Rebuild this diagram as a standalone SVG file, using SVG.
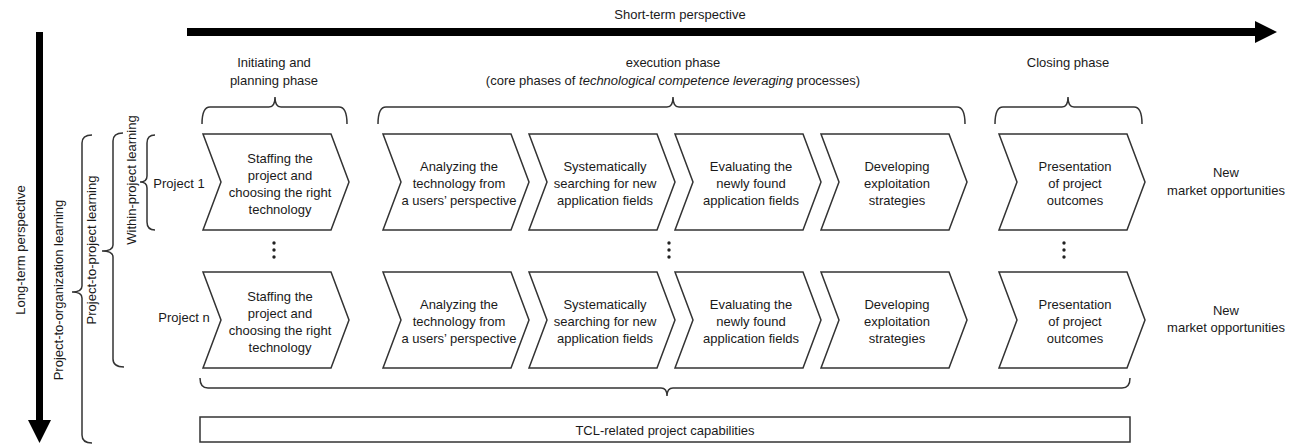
<svg xmlns="http://www.w3.org/2000/svg" width="1296" height="446" viewBox="0 0 1296 446">
<style>
text{font-family:"Liberation Sans",Arial,sans-serif;font-size:13px;fill:#1a1a1a;text-anchor:middle}
.chev{fill:#fff;stroke:#333;stroke-width:1.5;stroke-linejoin:miter}
.br{fill:none;stroke:#333;stroke-width:1.5}
.dot{fill:#222}
</style>
<defs>
<path id="chev" d="M0,0 L128,0 L146,48 L128,96 L0,96 L18,48 Z"/>
</defs>

<!-- axes -->
<g id="axes">
<rect x="187" y="28" width="1070" height="8" fill="#000"/>
<polygon points="1255,21 1277,32 1255,43" fill="#000"/>
<text x="680" y="18.5">Short-term perspective</text>
<rect x="36" y="32" width="7" height="392" fill="#000"/>
<polygon points="28,420 39.5,443 51,420" fill="#000"/>
<text transform="translate(24.5,250) rotate(-90)">Long-term perspective</text>
</g>

<!-- learning levels -->
<g id="learning-levels">
<text transform="translate(62.5,290) rotate(-90)">Project-to-organization learning</text>
<path class="br" d="M92,135 Q82,135 82,143 L82,286 Q82,292 72,292 Q82,292 82,298 L82,435 Q82,443 92,443"/>
<text transform="translate(95.5,250) rotate(-90)">Project-to-project learning</text>
<path class="br" d="M123,133 Q113,133 113,141 L113,245 Q113,251 102,251 Q113,251 113,257 L113,359 Q113,367 124,367"/>
<text transform="translate(135.5,180) rotate(-90)">Within-project learning</text>
<path class="br" d="M155,135 Q147,135 147,143 L147,176 Q147,182 140,182 Q147,182 147,188 L147,222 Q147,230 155,230"/>
</g>

<!-- phase braces -->
<g id="phases">
<text x="274" y="66.5">Initiating and</text>
<text x="274" y="84.5">planning phase</text>
<path class="br" d="M202,124 Q202,107 210,107 L269,107 Q275,107 275,97 Q275,107 281,107 L339,107 Q347,107 347,124"/>
<text x="673" y="66.5">execution phase</text>
<text x="673" y="84.5">(core phases of <tspan font-style="italic">technological competence leveraging</tspan> processes)</text>
<path class="br" d="M378,124 Q378,107 386,107 L667,107 Q673,107 673,97 Q673,107 679,107 L957,107 Q965,107 965,124"/>
<text x="1068" y="66.5">Closing phase</text>
<path class="br" d="M995,124 Q995,107 1003,107 L1062,107 Q1068,107 1068,97 Q1068,107 1074,107 L1134,107 Q1142,107 1142,124"/>
</g>

<!-- Project 1 -->
<g id="project1">
<text x="179" y="188">Project 1</text>
<g id="p1-staffing">
<use href="#chev" class="chev" x="203" y="134"/>
<text x="280" y="163">Staffing the</text><text x="280" y="180">project and</text><text x="280" y="197">choosing the right</text><text x="280" y="214">technology</text>
</g>
<g id="p1-analyzing">
<use href="#chev" class="chev" x="383" y="134"/>
<text x="459" y="170.5">Analyzing the</text><text x="459" y="187.5">technology from</text><text x="459" y="204.5">a users’ perspective</text>
</g>
<g id="p1-searching">
<use href="#chev" class="chev" x="529" y="134"/>
<text x="605" y="170.5">Systematically</text><text x="605" y="187.5">searching for new</text><text x="605" y="204.5">application fields</text>
</g>
<g id="p1-evaluating">
<use href="#chev" class="chev" x="675" y="134"/>
<text x="751" y="170.5">Evaluating the</text><text x="751" y="187.5">newly found</text><text x="751" y="204.5">application fields</text>
</g>
<g id="p1-developing">
<use href="#chev" class="chev" x="821" y="134"/>
<text x="897" y="170.5">Developing</text><text x="897" y="187.5">exploitation</text><text x="897" y="204.5">strategies</text>
</g>
<g id="p1-presentation">
<use href="#chev" class="chev" x="999" y="134"/>
<text x="1075" y="170.5">Presentation</text><text x="1075" y="187.5">of project</text><text x="1075" y="204.5">outcomes</text>
</g>
<text x="1226" y="176.5">New</text>
<text x="1226" y="194.5">market opportunities</text>
</g>

<!-- ellipses -->
<g id="ellipses">
<circle class="dot" cx="274" cy="243" r="1.7"/><circle class="dot" cx="274" cy="250" r="1.7"/><circle class="dot" cx="274" cy="257" r="1.7"/>
<circle class="dot" cx="669" cy="243" r="1.7"/><circle class="dot" cx="669" cy="250" r="1.7"/><circle class="dot" cx="669" cy="257" r="1.7"/>
<circle class="dot" cx="1064" cy="243" r="1.7"/><circle class="dot" cx="1064" cy="250" r="1.7"/><circle class="dot" cx="1064" cy="257" r="1.7"/>
</g>

<!-- Project n -->
<g id="projectn">
<text x="184" y="322">Project n</text>
<g id="pn-staffing">
<use href="#chev" class="chev" x="203" y="272"/>
<text x="280" y="301">Staffing the</text><text x="280" y="318">project and</text><text x="280" y="335">choosing the right</text><text x="280" y="352">technology</text>
</g>
<g id="pn-analyzing">
<use href="#chev" class="chev" x="383" y="272"/>
<text x="459" y="308.5">Analyzing the</text><text x="459" y="325.5">technology from</text><text x="459" y="342.5">a users’ perspective</text>
</g>
<g id="pn-searching">
<use href="#chev" class="chev" x="529" y="272"/>
<text x="605" y="308.5">Systematically</text><text x="605" y="325.5">searching for new</text><text x="605" y="342.5">application fields</text>
</g>
<g id="pn-evaluating">
<use href="#chev" class="chev" x="675" y="272"/>
<text x="751" y="308.5">Evaluating the</text><text x="751" y="325.5">newly found</text><text x="751" y="342.5">application fields</text>
</g>
<g id="pn-developing">
<use href="#chev" class="chev" x="821" y="272"/>
<text x="897" y="308.5">Developing</text><text x="897" y="325.5">exploitation</text><text x="897" y="342.5">strategies</text>
</g>
<g id="pn-presentation">
<use href="#chev" class="chev" x="999" y="272"/>
<text x="1075" y="308.5">Presentation</text><text x="1075" y="325.5">of project</text><text x="1075" y="342.5">outcomes</text>
</g>
<text x="1226" y="314.5">New</text>
<text x="1226" y="331.5">market opportunities</text>
</g>

<!-- capabilities -->
<g id="capabilities">
<path class="br" d="M200,378 Q200,388 208,388 L661,388 Q667,388 667,396 Q667,388 673,388 L1122,388 Q1130,388 1130,378"/>
<rect x="200" y="417" width="930" height="25" fill="#fff" stroke="#333" stroke-width="1.5"/>
<text x="665" y="434.5">TCL-related project capabilities</text>
</g>
</svg>
